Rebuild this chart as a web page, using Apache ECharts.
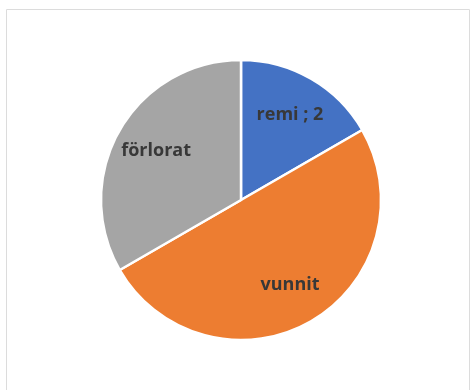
<!DOCTYPE html>
<html>
<head>
<meta charset="utf-8">
<script src="https://cdn.jsdelivr.net/npm/echarts@6/dist/echarts.min.js"></script>
<style>
  html, body { margin: 0; padding: 0; background: #fff; }
  #chart { width: 476px; height: 390px; }
</style>
</head>
<body>
<div id="chart"></div>
<script>
// results
const categories = ['remi', 'vunnit', 'förlorat'];
const counts = [2, 6, 4];
const colors = ['#4472C4', '#ED7D31', '#A5A5A5'];
// only this slice shows its value next to the name
const showValue = ['remi'];

const pieData = categories.map((name, i) => ({
  name: name,
  value: counts[i],
  itemStyle: { color: colors[i] }
}));

const center = [241, 200];

const chart = echarts.init(document.getElementById('chart'), null, { renderer: 'canvas' });
chart.setOption({
  animation: false,
  graphic: [{
    type: 'rect',
    shape: { x: 6.5, y: 9.5, width: 463, height: 400 },
    style: { fill: 'none', stroke: '#dcdcdc', lineWidth: 1 },
    silent: true
  }],
  series: [
    {
      type: 'pie',
      center: center,
      radius: 140,
      startAngle: 90,
      clockwise: true,
      avoidLabelOverlap: false,
      label: { show: false },
      labelLine: { show: false },
      itemStyle: { borderColor: '#fff', borderWidth: 2.5 },
      data: pieData
    },
    {
      // transparent ring just to place the labels further out
      type: 'pie',
      center: center,
      radius: [50, 140],
      startAngle: 90,
      clockwise: true,
      silent: true,
      avoidLabelOverlap: false,
      itemStyle: { color: 'rgba(0,0,0,0)' },
      label: {
        show: true,
        position: 'inside',
        color: '#383838',
        fontFamily: 'Open Sans',
        fontWeight: 'bold',
        fontSize: 18,
        formatter: p => showValue.includes(p.name) ? p.name + ' ; ' + p.value : p.name
      },
      labelLine: { show: false },
      data: categories.map((name, i) => ({ name: name, value: counts[i] }))
    }
  ]
});
</script>
</body>
</html>
